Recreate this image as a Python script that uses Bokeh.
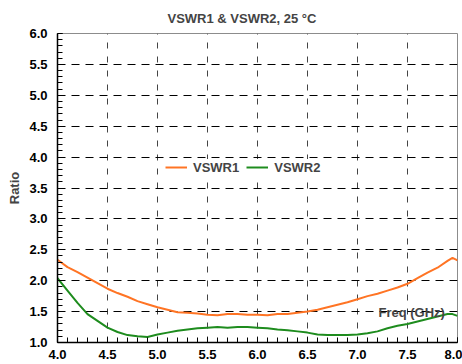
from bokeh.plotting import figure
from bokeh.models import (Range1d, SingleIntervalTicker, FixedTicker, Legend, LegendItem, Label,
                          NumeralTickFormatter)
from bokeh.embed import file_html
from bokeh.resources import INLINE

# ---- data ----
freq = [4.0, 4.1, 4.2, 4.3, 4.4, 4.5, 4.6, 4.7, 4.8, 4.9,
        5.0, 5.1, 5.2, 5.3, 5.4, 5.5, 5.6, 5.7, 5.8, 5.9,
        6.0, 6.1, 6.2, 6.3, 6.4, 6.5, 6.6, 6.7, 6.8, 6.9,
        7.0, 7.1, 7.2, 7.3, 7.4, 7.5, 7.6, 7.7, 7.8, 7.9, 7.95, 8.0]
vswr1 = [2.34, 2.22, 2.14, 2.05, 1.96, 1.87, 1.80, 1.74, 1.67, 1.62,
         1.57, 1.53, 1.49, 1.48, 1.47, 1.45, 1.44, 1.46, 1.46, 1.45,
         1.45, 1.44, 1.46, 1.46, 1.48, 1.50, 1.53, 1.57, 1.61, 1.65,
         1.70, 1.75, 1.79, 1.84, 1.89, 1.95, 2.04, 2.13, 2.21, 2.32, 2.37, 2.33]
vswr2 = [2.04, 1.84, 1.64, 1.46, 1.35, 1.24, 1.17, 1.12, 1.10, 1.09,
         1.13, 1.16, 1.19, 1.21, 1.23, 1.24, 1.25, 1.24, 1.25, 1.25,
         1.24, 1.23, 1.21, 1.20, 1.18, 1.16, 1.13, 1.12, 1.12, 1.12,
         1.13, 1.15, 1.18, 1.23, 1.27, 1.30, 1.34, 1.38, 1.42, 1.46, 1.46, 1.43]
series_names = ["VSWR1", "VSWR2"]
title_text = "VSWR1 & VSWR2,  25 °C"
x_title = "Freq (GHz)"
y_title = "Ratio"

FONT = "Liberation Sans"
FS = "13px"

p = figure(width=462, height=364, output_backend="svg", toolbar_location=None,
           x_range=Range1d(4.0, 8.0), y_range=Range1d(1.0, 6.0),
           min_border_left=57, min_border_right=5, min_border_top=33, min_border_bottom=22)
p.background_fill_color = "white"
p.outline_line_color = "#8c8c8c"
p.outline_line_width = 1

p.title.text = title_text
p.title.text_font = FONT
p.title.text_font_size = FS
p.title.text_font_style = "bold"
p.title.align = "left"
p.title.offset = 110
p.title.standoff = 16

for ax in (p.xaxis[0], p.yaxis[0]):
    ax.ticker = SingleIntervalTicker(interval=0.5, num_minor_ticks=5)
    ax.formatter = NumeralTickFormatter(format="0.0")
    ax.major_label_text_font = FONT
    ax.major_label_text_font_size = FS
    ax.major_label_text_font_style = "bold"
    ax.major_label_text_color = "black"
    ax.axis_line_color = "black"
    ax.axis_line_width = 1.5
    ax.major_tick_in = 5
    ax.major_tick_out = 0
    ax.minor_tick_in = 5
    ax.minor_tick_out = 0
    ax.major_tick_line_color = "black"
    ax.minor_tick_line_color = "black"

p.xaxis[0].major_label_standoff = 7
p.yaxis[0].major_label_standoff = 10
p.yaxis[0].axis_label = y_title
p.yaxis[0].axis_label_text_font = FONT
p.yaxis[0].axis_label_text_font_size = FS
p.yaxis[0].axis_label_text_font_style = "bold"
p.yaxis[0].axis_label_standoff = 4

p.xgrid.ticker = FixedTicker(ticks=[4.5, 5.0, 5.5, 6.0, 6.5, 7.0, 7.5])
p.ygrid.ticker = FixedTicker(ticks=[1.5, 2.0, 2.5, 3.0, 3.5, 4.0, 4.5, 5.0, 5.5])
p.xgrid.grid_line_color = "#444444"
p.xgrid.grid_line_dash = "6 8"
p.ygrid.grid_line_color = "black"
p.ygrid.grid_line_dash = "8 6"
p.xgrid.grid_line_width = 1
p.ygrid.grid_line_width = 1

r1 = p.line(freq, vswr1, line_color="#FF7424", line_width=2)
r2 = p.line(freq, vswr2, line_color="#1E8C1E", line_width=2)

legend = Legend(items=[LegendItem(label=series_names[0], renderers=[r1]),
                       LegendItem(label=series_names[1], renderers=[r2])],
                orientation="horizontal", location=(108, 167),
                background_fill_color="white", background_fill_alpha=1.0,
                border_line_color=None, padding=4, spacing=7,
                glyph_width=22, glyph_height=16, label_standoff=6,
                label_text_font=FONT, label_text_font_size=FS,
                label_text_font_style="bold", margin=0)
p.add_layout(legend, "center")

p.add_layout(Label(x=7.21, y=1.48, text=x_title, text_font=FONT, text_font_size=FS,
                   text_font_style="bold", text_baseline="alphabetic"))

open("out.html", "w").write(file_html(p, INLINE))
